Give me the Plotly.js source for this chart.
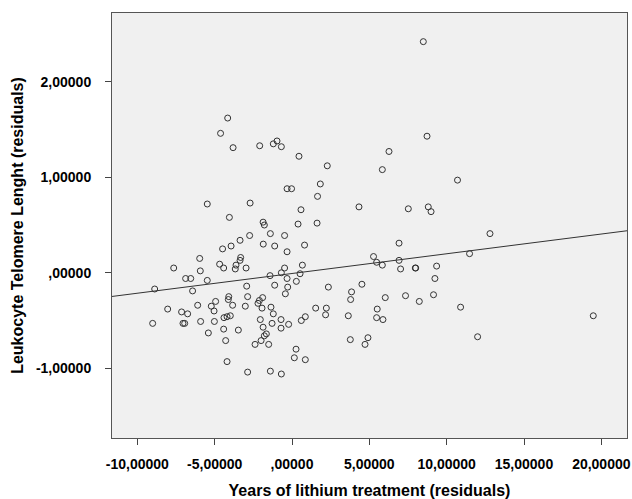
<!DOCTYPE html>
<html>
<head>
<meta charset="utf-8">
<script src="https://cdn.plot.ly/plotly-3.0.1.min.js"></script>
<style>html,body{margin:0;padding:0;background:#fff;}#chart{width:632px;height:499px;}</style>
</head>
<body>
<div id="chart"></div>
<script>
// Years of lithium treatment (residuals)
const lithiumYears = [
-4.16,-4.62,-3.81,-2.09,-1.21,-0.97,-0.69,0.45,2.28,-0.32,
-0.03,1.83,1.65,-5.48,-2.71,0.58,4.33,-4.05,-1.87,-1.79,
0.39,1.62,8.49,8.73,6.27,5.84,10.70,7.52,8.81,8.99,
12.80,-1.40,-2.74,-0.48,-3.36,-1.86,-1.12,0.81,-3.94,-4.49,
-0.32,-5.97,-3.32,-3.36,-4.68,-3.62,-3.67,-4.42,-2.97,0.67,
-0.48,-7.65,-5.93,0.52,-0.69,-1.42,-0.32,-6.88,-6.55,-5.48,
0.28,-1.12,-2.93,-0.28,-8.88,-6.43,2.35,-0.43,-2.87,-4.09,
-4.12,-1.90,-2.11,-4.94,-2.20,-3.84,-6.10,-5.22,-3.02,-8.04,
-1.94,-1.36,1.53,2.22,-5.04,-7.14,-1.21,-6.75,2.17,3.64,
-3.99,-4.20,-4.40,0.86,0.60,-2.05,-0.71,-5.91,-5.02,-9.01,
-7.05,-6.94,-1.29,-0.22,-1.87,-4.42,-3.47,-0.71,-5.41,-1.66,
-1.79,-4.29,-2.00,3.77,-2.39,-1.51,0.26,0.15,0.86,-4.20,
-2.87,-1.40,-0.69,3.85,3.79,5.27,5.47,5.84,6.92,6.92,
7.02,7.97,8.00,9.35,11.48,9.24,4.52,6.03,7.34,9.15,
8.23,10.90,5.51,5.47,5.88,19.48,4.91,4.72,12.00
];
// Leukocyte Telomere Length (residuals)
const telomereLength = [
1.62,1.46,1.31,1.33,1.35,1.38,1.32,1.22,1.12,0.88,
0.88,0.93,0.80,0.72,0.73,0.66,0.69,0.58,0.53,0.50,
0.51,0.52,2.42,1.43,1.27,1.08,0.97,0.67,0.69,0.64,
0.41,0.41,0.39,0.39,0.34,0.30,0.28,0.29,0.28,0.25,
0.22,0.15,0.16,0.13,0.09,0.08,0.04,0.05,0.05,0.08,
0.05,0.05,0.02,-0.01,0.00,-0.03,-0.06,-0.06,-0.06,-0.08,
-0.09,-0.13,-0.14,-0.15,-0.17,-0.19,-0.15,-0.22,-0.25,-0.25,
-0.28,-0.26,-0.29,-0.30,-0.32,-0.34,-0.34,-0.35,-0.35,-0.38,
-0.37,-0.36,-0.37,-0.37,-0.40,-0.41,-0.43,-0.43,-0.44,-0.45,
-0.45,-0.46,-0.47,-0.46,-0.50,-0.49,-0.49,-0.51,-0.51,-0.53,
-0.53,-0.53,-0.53,-0.54,-0.57,-0.59,-0.60,-0.58,-0.63,-0.64,
-0.66,-0.71,-0.71,-0.70,-0.75,-0.75,-0.80,-0.89,-0.91,-0.93,
-1.04,-1.03,-1.06,-0.20,-0.28,0.17,0.11,0.08,0.31,0.13,
0.04,0.05,0.05,0.07,0.20,-0.06,-0.12,-0.26,-0.24,-0.23,
-0.30,-0.36,-0.38,-0.47,-0.49,-0.45,-0.68,-0.75,-0.67
];
// Fit line end points
const fitX = [-11.64, 21.66];
const fitY = [-0.248, 0.44];

const xTickVals = [-10, -5, 0, 5, 10, 15, 20];
const xTickText = ["-10,00000", "-5,00000", ",00000", "5,00000", "10,00000", "15,00000", "20,00000"];
const yTickVals = [-1, 0, 1, 2];
const yTickText = ["-1,00000", ",00000", "1,00000", "2,00000"];

const tickFont = {family: "Liberation Sans, Arial, sans-serif", size: 14, color: "#000", weight: "bold"};
const titleFont = {family: "Liberation Sans, Arial, sans-serif", size: 16, color: "#000", weight: "bold"};

const traces = [
  {
    x: lithiumYears, y: telomereLength, type: "scatter", mode: "markers",
    marker: {symbol: "circle-open", size: 6, color: "#333", line: {width: 1, color: "#333"}},
    hoverinfo: "x+y"
  },
  {
    x: fitX, y: fitY, type: "scatter", mode: "lines",
    line: {color: "#333", width: 1}, hoverinfo: "skip"
  }
];

const layout = {
  width: 632, height: 499,
  margin: {l: 112, r: 5, t: 13, b: 61},
  paper_bgcolor: "#fff",
  plot_bgcolor: "#f0f0f0",
  showlegend: false,
  xaxis: {
    range: [-11.64, 21.66], tickvals: xTickVals, ticktext: xTickText,
    ticks: "outside", ticklen: 6, tickcolor: "#444", tickwidth: 1,
    showgrid: false, zeroline: false, showline: true, mirror: true,
    linecolor: "#555", linewidth: 1, tickfont: tickFont, ticklabelstandoff: 7,
    title: {text: "Years of lithium treatment (residuals)", font: titleFont, standoff: 14}
  },
  yaxis: {
    range: [-1.73, 2.72], tickvals: yTickVals, ticktext: yTickText,
    ticks: "outside", ticklen: 6, tickcolor: "#444", tickwidth: 1,
    showgrid: false, zeroline: false, showline: true, mirror: true,
    linecolor: "#555", linewidth: 1, tickfont: tickFont, ticklabelstandoff: 11,
    title: {text: "Leukocyte Telomere Lenght (residuals)", font: titleFont, standoff: 8}
  }
};

Plotly.newPlot("chart", traces, layout, {displayModeBar: false, staticPlot: true});
</script>
</body>
</html>
